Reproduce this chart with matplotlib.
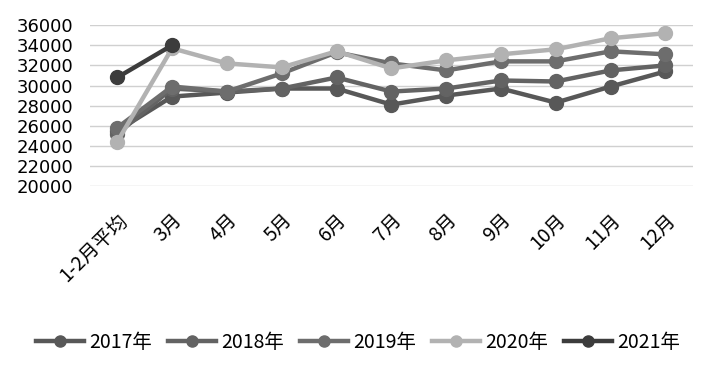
import matplotlib
matplotlib.use("Agg")
import matplotlib.pyplot as plt

plt.rcParams['font.family'] = ['DejaVu Sans', 'Noto Sans CJK SC']

months = ["1-2月平均", "3月", "4月", "5月", "6月", "7月", "8月", "9月", "10月", "11月", "12月"]
y2017 = [25500, 28900, 29300, 29700, 29700, 28100, 29000, 29700, 28300, 29900, 31400]
y2018 = [25200, 29700, 29400, 29700, 30800, 29400, 29700, 30500, 30400, 31500, 32000]
y2019 = [25800, 29900, 29400, 31200, 33300, 32200, 31500, 32400, 32400, 33400, 33100]
y2020 = [24400, 33700, 32200, 31800, 33400, 31700, 32500, 33100, 33600, 34700, 35200]
y2021 = [30800, 34000]

series = [
    ("2017年", y2017, "#585858"),
    ("2018年", y2018, "#636363"),
    ("2019年", y2019, "#6d6d6d"),
    ("2020年", y2020, "#b2b2b2"),
    ("2021年", y2021, "#3c3c3c"),
]

fig = plt.figure(figsize=(7.02, 3.70), dpi=100)
ax = fig.add_axes([0.128, 0.497, 0.859, 0.435])

x = list(range(len(months)))
for label, vals, color in series:
    ax.plot(x[:len(vals)], vals, color=color, lw=3.2, marker="o", ms=10,
            label=label, solid_joinstyle="round")

ax.set_xlim(-0.5, 10.5)
ax.set_ylim(20000, 36000)
ax.set_yticks(range(20000, 36001, 2000))
ax.tick_params(axis="y", labelsize=13, length=0, pad=12)
ax.set_xticks(x)
ax.set_xticklabels(months, rotation=45, ha="right", va="top",
                   rotation_mode="anchor", fontsize=14,
                   family=['Noto Sans CJK SC', 'DejaVu Sans'])
ax.tick_params(axis="x", length=0, pad=17)
ax.grid(axis="y", color="#d0d0d0", lw=1)
ax.set_axisbelow(True)
for s in ax.spines.values():
    s.set_visible(False)

leg = fig.legend(loc="center", bbox_to_anchor=(0.51, 0.075), ncol=5, frameon=False,
                 prop={"family": ['Noto Sans CJK SC', 'DejaVu Sans'], "size": 14},
                 handlelength=2.5, columnspacing=0.8, handletextpad=0.25,
                 markerscale=0.8)

fig.savefig("out.png", dpi=100)
